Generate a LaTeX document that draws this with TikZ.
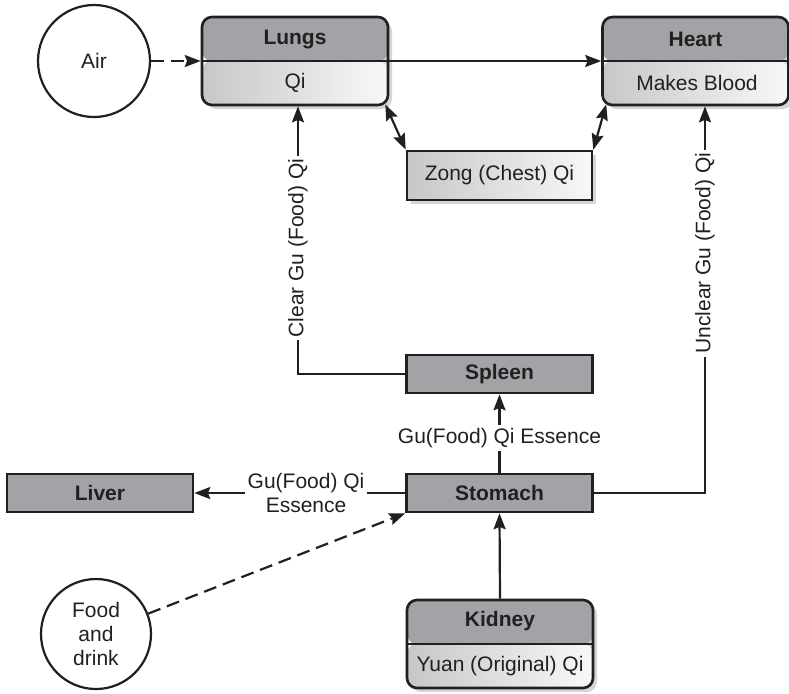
\documentclass[tikz,border=0pt]{standalone}
\usepackage{fontspec}
\setmainfont{Liberation Sans}
\usetikzlibrary{arrows.meta,shadows}
\definecolor{ink}{HTML}{231F20}
\definecolor{organ}{HTML}{A2A3A6}
\definecolor{paleL}{HTML}{C6C7C9}
\definecolor{paleR}{HTML}{F8F8F8}
\definecolor{shadowgray}{HTML}{D6D6D6}
\begin{document}
\begin{tikzpicture}[x=0.5pt,y=-0.5pt,
  font=\fontsize{10.5}{12}\selectfont, text=ink,
  conn/.style={draw=ink, line width=1.1pt, -{Stealth[length=8pt,width=6pt,inset=1.2pt]}},
  twoway/.style={draw=ink, line width=1.1pt, {Stealth[length=8pt,width=6pt,inset=1.2pt]}-{Stealth[length=8pt,width=6pt,inset=1.2pt]}},
  dashedconn/.style={conn, dash pattern=on 6.5pt off 3.5pt},
  plain/.style={draw=ink, line width=1.1pt},
  source/.style={circle, draw=ink, line width=1.1pt, fill=white, align=center, inner sep=0pt},
  organbox/.style={rectangle, draw=ink, line width=1.3pt, fill=organ, minimum width=93pt, minimum height=19pt, inner sep=0pt, font=\fontsize{10.5}{12}\selectfont\bfseries},
  qibox/.style={rectangle, draw=ink, line width=1.3pt, minimum width=92.5pt, minimum height=24.5pt, inner sep=0pt,
    left color=paleL, right color=paleR,
    drop shadow={shadow xshift=2pt, shadow yshift=-2pt, fill=shadowgray, opacity=1}},
  twopart/.style={rectangle, draw=ink, line width=1.3pt, rounded corners=5pt, minimum width=93pt, minimum height=44pt, inner sep=0pt,
    drop shadow={shadow xshift=2pt, shadow yshift=-2pt, fill=shadowgray, opacity=1},
    path picture={
      \fill[organ] (path picture bounding box.north west) rectangle (path picture bounding box.east);
      \shade[left color=paleL, right color=paleR] (path picture bounding box.west) rectangle (path picture bounding box.south east);
    }},
  head/.style={font=\fontsize{10.5}{12}\selectfont\bfseries},
  tag/.style={fill=white, inner sep=1.5pt, align=center}
]
\useasboundingbox (0,0) rectangle (789,693);

% sources
\node[source, minimum size=56pt] (air) at (94,61) {Air};
\node[source, minimum size=55pt] (food) at (96,634) {Food\\and\\drink};

% organs with two parts
\node[twopart] (lungs) at (295,61) {};
\draw[plain, line width=1.2pt] (lungs.west) -- (lungs.east);
\node[head] (lungsT) at (295,39) {Lungs};
\node (lungsB) at (295,83) {Qi};

\node[twopart] (heart) at (695.5,61) {};
\draw[plain, line width=1.2pt] (heart.west) -- (heart.east);
\node[head] (heartT) at (695.5,39) {Heart};
\node (heartB) at (697,83) {Makes Blood};

\node[twopart] (kidney) at (500,644) {};
\draw[plain, line width=1.2pt] (kidney.west) -- (kidney.east);
\node[head] (kidneyT) at (500,621) {Kidney};
\node (kidneyB) at (500,666) {Yuan (Original) Qi};

% chest qi
\node[qibox] (zong) at (499.5,175.5) {Zong (Chest) Qi};

% single organs
\node[organbox] (spleen) at (499.5,374) {Spleen};
\node[organbox] (stomach) at (499.5,493) {Stomach};
\node[organbox] (liver) at (100,493) {Liver};

% connectors
\draw[dashedconn] (air.east) -- (lungs.west);
\draw[conn] (lungs.east) -- (heart.west);
\draw[twoway] ([shift={(-4,-2)}]lungs.south east) -- (zong.north west);
\draw[twoway] (zong.north east) -- ([shift={(5,-2)}]heart.south west);

\draw[conn] (stomach.north) -- (spleen.south)
  node[tag, pos=0.44] (essenceup) {Gu(Food) Qi Essence};
\draw[conn] (stomach.west) -- (liver.east)
  node[tag, pos=0.47] (essenceleft) {Gu(Food) Qi\\Essence};

\coordinate (clearbend) at (298,374);
\draw[conn] (spleen.west) -- (clearbend) -- (clearbend |- lungs.south)
  node[tag, pos=0.47, rotate=90] (clearlabel) {Clear Gu (Food) Qi};

\coordinate (unclearbend) at (705,493);
\draw[conn] (stomach.east) -- (unclearbend) -- (unclearbend |- heart.south)
  node[tag, pos=0.62, rotate=90] (unclearlabel) {Unclear Gu (Food) Qi};

\draw[conn] (kidney.north) -- (stomach.south);
\draw[dashedconn] (food) -- (stomach.south west);
\end{tikzpicture}
\end{document}
